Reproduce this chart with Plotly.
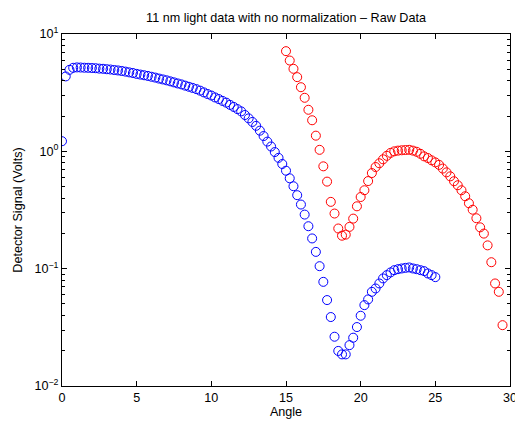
import plotly.graph_objects as go

# ---- data ----
blue_angle = [i * 0.25 for i in range(101)]  # 0 .. 25
blue_signal = [
    1.22, 4.35, 4.95, 5.15, 5.19, 5.18, 5.16, 5.15, 5.13, 5.11, 5.07, 5.05, 5.01,
    4.98, 4.93, 4.89, 4.84, 4.78, 4.71, 4.65, 4.57, 4.51, 4.45, 4.39, 4.32, 4.25,
    4.17, 4.10, 4.03, 3.95, 3.87, 3.79, 3.72, 3.63, 3.55, 3.47, 3.39, 3.29, 3.18,
    3.08, 2.99, 2.88, 2.79, 2.69, 2.60, 2.49, 2.39, 2.29, 2.19, 2.04, 1.91, 1.78,
    1.65, 1.50, 1.35, 1.21, 1.10, 0.986, 0.88, 0.78, 0.684, 0.589, 0.504, 0.423,
    0.352, 0.289, 0.230, 0.181, 0.139, 0.105, 0.0772, 0.0540, 0.0387, 0.0263,
    0.0199, 0.0186, 0.0186, 0.0223, 0.0258, 0.0318, 0.0397, 0.0489, 0.0547,
    0.0635, 0.0678, 0.0748, 0.0826, 0.0881, 0.0929, 0.0971, 0.099, 0.1004,
    0.1016, 0.1024, 0.1004, 0.099, 0.0971, 0.0953, 0.091, 0.0881, 0.0847,
]

red_angle = [15 + i * 0.25 for i in range(59)]  # 15 .. 29.5
red_signal = [
    7.14, 5.94, 5.05, 4.29, 3.52, 2.86, 2.26, 1.84, 1.36, 1.03, 0.745, 0.552,
    0.371, 0.295, 0.220, 0.191, 0.195, 0.227, 0.267, 0.340, 0.408, 0.466, 0.558,
    0.653, 0.735, 0.791, 0.855, 0.916, 0.970, 1.0, 1.014, 1.021, 1.026, 1.030,
    1.014, 0.991, 0.953, 0.906, 0.877, 0.838, 0.805, 0.767, 0.713, 0.662, 0.612,
    0.556, 0.514, 0.466, 0.414, 0.361, 0.318, 0.269, 0.225, 0.199, 0.158, 0.1135,
    0.0748, 0.0635, 0.033,
]

x_ticks = [0, 5, 10, 15, 20, 25, 30]
y_ticks = [0.01, 0.1, 1, 10]
y_ticktext = ["10<sup>\u22122</sup>", "10<sup>\u22121</sup>", "10<sup>0</sup>", "10<sup>1</sup>"]
y_minor = [m * d for d in (0.01, 0.1, 1) for m in range(2, 10)]

title_text = "11 nm light data with no normalization \u2013 Raw Data"
x_label = "Angle"
y_label = "Detector Signal (Volts)"

FONT = "Liberation Sans, Arial, Helvetica, sans-serif"
FS = 12.6

fig = go.Figure()
fig.add_trace(go.Scatter(
    x=blue_angle, y=blue_signal, mode="markers",
    marker=dict(symbol="circle-open", size=9, color="#0000ff", line=dict(width=1, color="#0000ff")),
    showlegend=False, hoverinfo="skip",
))
fig.add_trace(go.Scatter(
    x=red_angle, y=red_signal, mode="markers",
    marker=dict(symbol="circle-open", size=9, color="#ff0000", line=dict(width=1, color="#ff0000")),
    showlegend=False, hoverinfo="skip",
))

fig.update_layout(
    width=515, height=424,
    margin=dict(l=62, r=5, t=34, b=38),
    paper_bgcolor="white", plot_bgcolor="white",
    font=dict(family=FONT, size=FS, color="black"),
    title=dict(text=title_text, x=(62 + 510) / 2 / 515, xanchor="center",
               y=1 - 18 / 424, yanchor="middle", font=dict(size=FS, family=FONT)),
)
fig.update_xaxes(
    range=[0, 30], tickvals=x_ticks, ticks="inside", ticklen=5, tickcolor="black",
    showline=True, linecolor="black", linewidth=1, mirror="ticks",
    showgrid=False, zeroline=False, ticklabeloverflow="allow", automargin=False,
    title=dict(text=x_label, standoff=3, font=dict(size=FS)),
    tickfont=dict(size=FS),
)
fig.update_yaxes(
    type="log", range=[-2, 1], tickvals=y_ticks, ticktext=y_ticktext,
    ticks="inside", ticklen=5, tickcolor="black",
    minor=dict(tickmode="array", tickvals=y_minor, ticks="inside", ticklen=3, tickcolor="black", showgrid=False),
    showline=True, linecolor="black", linewidth=1, mirror="ticks",
    showgrid=False, zeroline=False, ticklabeloverflow="allow", automargin=False,
    title=dict(text=y_label, standoff=8, font=dict(size=FS)),
    tickfont=dict(size=FS),
)

fig.write_html("out.html", config={"displayModeBar": False})
